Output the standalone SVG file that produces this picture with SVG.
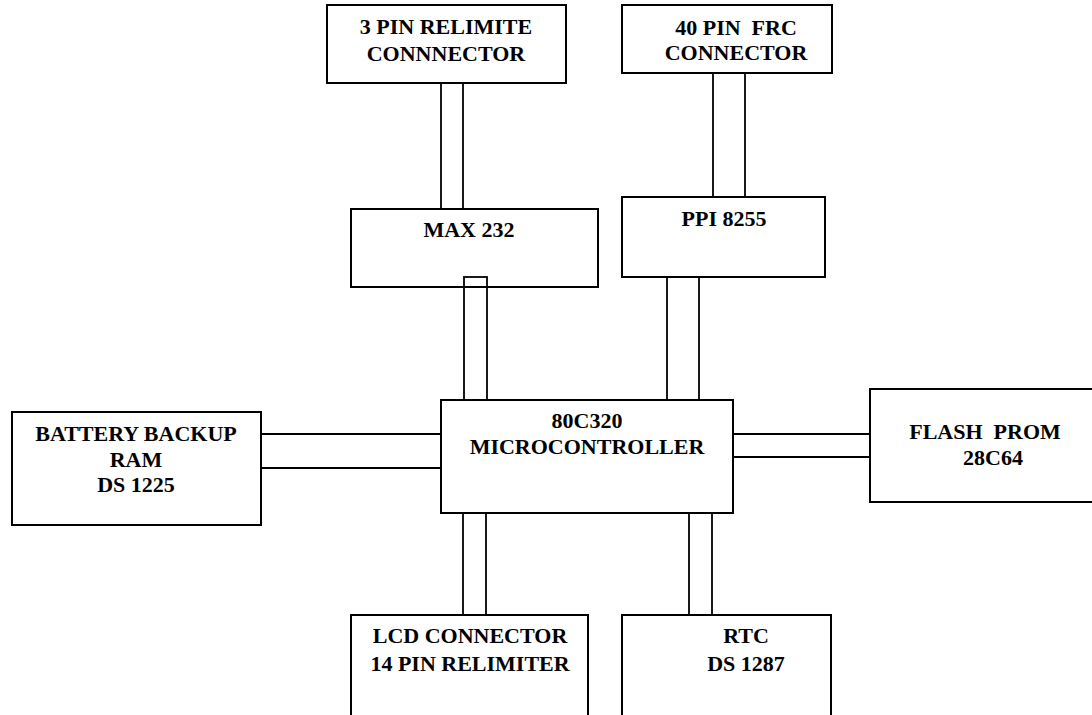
<svg xmlns="http://www.w3.org/2000/svg" width="1092" height="715" viewBox="0 0 1092 715">
<style>
.box{fill:#fff;stroke:#000;stroke-width:2}
.ln{fill:none;stroke:#000;stroke-width:1.8}
text{font-family:"Liberation Serif","Times New Roman",serif;font-weight:bold;font-size:22px;fill:#000;text-anchor:middle}
</style>
<rect width="1092" height="715" fill="#fff"/>
<g id="connectors">
<line class="ln" x1="441" y1="83" x2="441" y2="209"/>
<line class="ln" x1="463" y1="83" x2="463" y2="209"/>
<line class="ln" x1="713" y1="73" x2="713" y2="197"/>
<line class="ln" x1="745" y1="73" x2="745" y2="197"/>
<rect class="ln" x="464" y="277" width="23" height="123"/>
<line class="ln" x1="667" y1="277" x2="667" y2="400"/>
<line class="ln" x1="699" y1="277" x2="699" y2="400"/>
<line class="ln" x1="261" y1="434" x2="441" y2="434"/>
<line class="ln" x1="261" y1="468" x2="441" y2="468"/>
<line class="ln" x1="733" y1="434" x2="870" y2="434"/>
<line class="ln" x1="733" y1="457" x2="870" y2="457"/>
<line class="ln" x1="463" y1="513" x2="463" y2="615"/>
<line class="ln" x1="486" y1="513" x2="486" y2="615"/>
<line class="ln" x1="689" y1="513" x2="689" y2="615"/>
<line class="ln" x1="712" y1="513" x2="712" y2="615"/>
</g>
<g id="relimite3">
<rect class="box" x="327" y="5" width="239" height="78"/>
<text x="446" y="34">3 PIN RELIMITE</text>
<text x="446" y="61">CONNNECTOR</text>
</g>
<g id="frc40">
<rect class="box" x="622" y="5" width="210" height="68"/>
<text x="736" y="35" xml:space="preserve">40 PIN  FRC</text>
<text x="736" y="60">CONNECTOR</text>
</g>
<g id="max232">
<rect class="box" x="351" y="209" width="247" height="78"/>
<text x="469" y="237">MAX 232</text>
</g>
<g id="ppi8255">
<rect class="box" x="622" y="197" width="203" height="80"/>
<text x="724" y="226">PPI 8255</text>
</g>
<rect class="ln" x="464" y="277" width="23" height="10" style="stroke-width:1.8"/>
<g id="mcu">
<rect class="box" x="441" y="400" width="292" height="113"/>
<text x="587" y="428">80C320</text>
<text x="587" y="454">MICROCONTROLLER</text>
</g>
<g id="ram">
<rect class="box" x="12" y="412" width="249" height="113"/>
<text x="136" y="441">BATTERY BACKUP</text>
<text x="136" y="467">RAM</text>
<text x="136" y="492">DS 1225</text>
</g>
<g id="flash">
<rect class="box" x="870" y="389" width="240" height="113"/>
<text x="985" y="439" xml:space="preserve">FLASH  PROM</text>
<text x="993" y="465">28C64</text>
</g>
<g id="lcd">
<rect class="box" x="351" y="615" width="237" height="120"/>
<text x="470" y="643">LCD CONNECTOR</text>
<text x="470" y="671">14 PIN RELIMITER</text>
</g>
<g id="rtc">
<rect class="box" x="622" y="615" width="209" height="120"/>
<text x="746" y="643">RTC</text>
<text x="746" y="671">DS 1287</text>
</g>
</svg>
